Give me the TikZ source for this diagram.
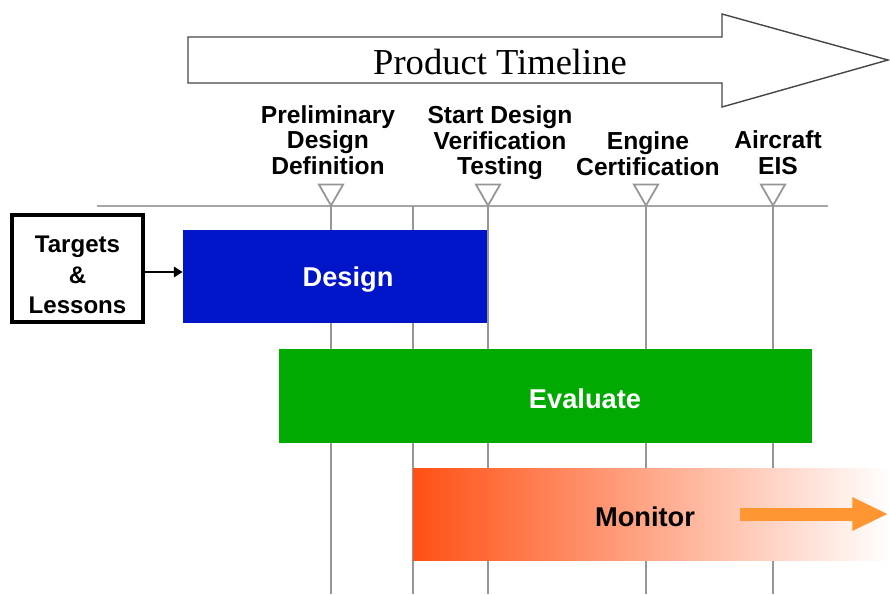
\documentclass[tikz,border=0pt]{standalone}
\usepackage{fontspec}
\setmainfont{Liberation Serif}
\setsansfont{Liberation Sans}
\usepackage{xcolor}
\definecolor{plmBlue}{RGB}{0, 20, 200}
\definecolor{plmGreen}{RGB}{0, 170, 0}
\definecolor{plmRed}{RGB}{255, 80, 20}
\definecolor{plmOrange}{RGB}{255, 150, 50}
\definecolor{plmGrey}{RGB}{150, 150, 150}
\definecolor{plmDark}{RGB}{70, 70, 70}
\usepackage{tikz}
\usetikzlibrary{
    shapes.geometric,
    arrows.meta,
    positioning,
    calc
}

\begin{document}
\begin{tikzpicture}[
    milestoneLabel/.style={
        font=\fontsize{14}{14.5}\selectfont\sffamily\bfseries,
        align=center, inner sep=0pt, text=black
    },
    milestone/.style={
        regular polygon, regular polygon sides=3, shape border rotate=180,
        draw=plmGrey, line width=1pt, fill=white,
        minimum size=0.56cm, inner sep=0pt
    },
    phaseBar/.style={
        rectangle, draw=none, inner sep=0pt,
        minimum height=1.86cm
    },
    phaseText/.style={
        font=\fontsize{15.5}{18}\selectfont\sffamily\bfseries, inner sep=0pt
    },
    gridLine/.style={draw=plmGrey, line width=1.1pt},
    feedArrow/.style={
        -{Triangle[length=5pt, width=6pt]}, line width=0.9pt, draw=black
    },
    trendArrow/.style={
        -{Triangle[length=0.72cm, width=0.62cm]}, line width=0.26cm, draw=plmOrange
    }
]
    \useasboundingbox (0,0) rectangle (17.8,-11.88);

    % Product timeline arrow
    \draw[draw=plmDark, line width=0.8pt, fill=white]
        (3.76,-0.74) -- (14.44,-0.74) -- (14.44,-0.28) -- (17.76,-1.2)
        -- (14.44,-2.14) -- (14.44,-1.66) -- (3.76,-1.66) -- cycle;
    \node[font=\fontsize{20.8}{24}\selectfont, inner sep=0pt] (timeline) at (10.0,-1.24) {Product Timeline};

    % Time axis and grid lines
    \draw[draw=plmGrey!85, line width=1.6pt] (1.94,-4.12) -- (16.56,-4.12);
    \draw[gridLine] (6.62,-4.12) -- (6.62,-11.88);
    \draw[gridLine] (8.26,-4.12) -- (8.26,-11.88);
    \draw[gridLine] (9.76,-4.12) -- (9.76,-11.88);
    \draw[gridLine] (12.92,-4.12) -- (12.92,-11.88);
    \draw[gridLine] (15.46,-4.12) -- (15.46,-11.88);

    % Milestones
    \node[milestone] (pdd) at (6.62,-3.83) {};
    \node[milestone] (sdvt) at (9.76,-3.83) {};
    \node[milestone] (cert) at (12.92,-3.83) {};
    \node[milestone] (eis) at (15.46,-3.83) {};

    \node[milestoneLabel] (pddText) at (6.56,-2.80) {Preliminary\\Design\\Definition};
    \node[milestoneLabel] (sdvtText) at (10.0,-2.86) {Start Design\\Verification\\Testing};
    \node[milestoneLabel] (certText) at (12.96,-3.07) {Engine\\Certification};
    \node[milestoneLabel] (eisText) at (15.56,-3.05) {Aircraft\\EIS};

    % Input box
    \node[rectangle, draw=black, line width=2pt, fill=white,
          minimum width=2.62cm, minimum height=2.14cm, inner sep=0pt]
        (targets) at (1.55,-5.37) {};
    \node[font=\fontsize{13.7}{17.3}\selectfont\sffamily\bfseries, align=center, inner sep=0pt]
        (targetsText) at (1.55,-5.50) {Targets\\\&\\Lessons};

    % Phase bars
    \node[phaseBar, fill=plmBlue, minimum width=6.08cm] (design) at (6.70,-5.53) {};
    \node[phaseText, text=white] (designText) at (6.96,-5.60) {Design};

    \node[phaseBar, fill=plmGreen, minimum width=10.66cm, minimum height=1.88cm] (evaluate) at (10.91,-7.92) {};
    \node[phaseText, text=white] (evaluateText) at (11.70,-7.98) {Evaluate};

    \node[phaseBar, left color=plmRed, middle color=plmRed!38, right color=white, minimum width=9.54cm, minimum height=1.84cm] (monitor) at (13.03,-10.28) {};
    \node[phaseText, text=black] (monitorText) at (12.90,-10.34) {Monitor};

    % Connectors
    \draw[feedArrow] (targets.east |- 0,-5.44) -- (design.west |- 0,-5.44);
    \draw[trendArrow] ([xshift=-3.0cm]monitor.east) -- ([xshift=-0.04cm]monitor.east);

\end{tikzpicture}
\end{document}
